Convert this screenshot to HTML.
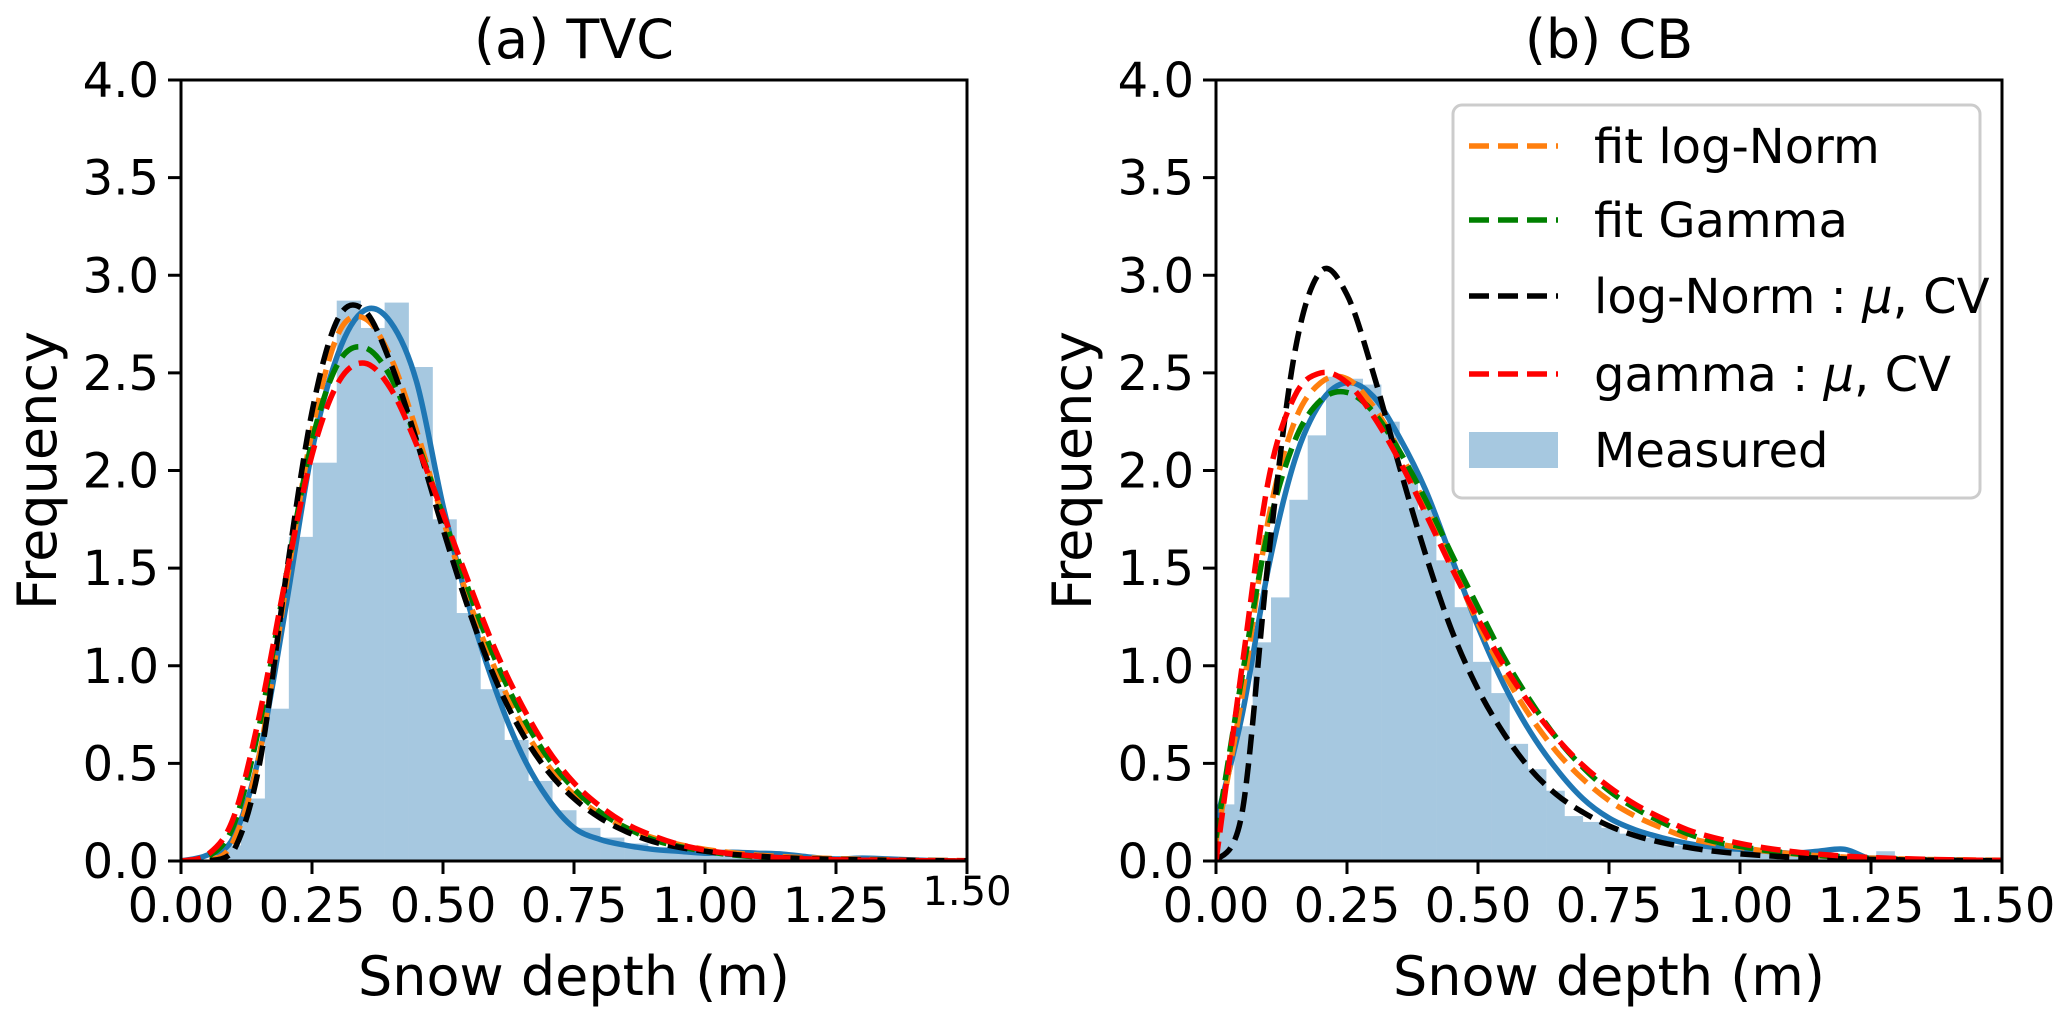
<!DOCTYPE html>
<html><head><meta charset="utf-8">
<style>
html,body{margin:0;padding:0;background:#fff;}
svg{display:block;font-family:"DejaVu Sans","Liberation Sans",sans-serif;}
</style></head>
<body>
<svg id="fig" width="2067" height="1015" viewBox="0 0 2067 1015" xmlns="http://www.w3.org/2000/svg"></svg>
<script>
// ---------- data ----------
const xTicks = [0, 0.25, 0.5, 0.75, 1.0, 1.25, 1.5];
const xTickLabelsA = ["0.00","0.25","0.50","0.75","1.00","1.25","1.50"];
const xTickLabelsB = ["0.00","0.25","0.50","0.75","1.00","1.25","1.50"];
const yTicks = [0,0.5,1,1.5,2,2.5,3,3.5,4];
const yTickLabels = ["0.0","0.5","1.0","1.5","2.0","2.5","3.0","3.5","4.0"];
const curveX = [0,0.05,0.1,0.15,0.2,0.25,0.3,0.35,0.4,0.45,0.5,0.55,0.6,0.65,0.7,0.75,0.8,0.85,0.9,0.95,1.0,1.05,1.1,1.15,1.2,1.25,1.3,1.35,1.4,1.45,1.5];

// Panel A (TVC) histogram
const histStartA = 0.0687;
const histWidthA = 0.0457;
const histA = [0.08,0.32,0.78,1.66,2.04,2.87,2.73,2.86,2.53,1.75,1.27,0.88,0.62,0.41,0.26,0.17,0.12,0.09,0.07,0.06,0.05,0.05,0.04,0.04,0.03,0.02,0.02,0.02,0.01,0.01];
const kdeA    = [0,0.03,0.12,0.55,1.3,2.1,2.6,2.82,2.76,2.45,1.82,1.3,0.88,0.55,0.32,0.17,0.11,0.08,0.06,0.05,0.04,0.045,0.04,0.035,0.02,0.01,0.015,0.01,0.005,0,0];
const lognA   = [0,0,0.1,0.55,1.4,2.2,2.7,2.78,2.58,2.2,1.75,1.33,0.98,0.7,0.49,0.34,0.24,0.17,0.12,0.085,0.06,0.043,0.03,0.022,0.016,0.012,0.008,0.006,0.004,0.003,0.002];
const gammaA  = [0,0.02,0.18,0.7,1.45,2.15,2.55,2.63,2.48,2.15,1.77,1.38,1.03,0.75,0.53,0.37,0.25,0.17,0.11,0.075,0.05,0.032,0.021,0.014,0.009,0.006,0.004,0.002,0.001,0.001,0];
const lognMuA = [0,0,0.05,0.5,1.45,2.3,2.78,2.82,2.55,2.15,1.7,1.28,0.93,0.66,0.46,0.32,0.22,0.15,0.1,0.07,0.05,0.035,0.025,0.017,0.012,0.008,0.006,0.004,0.003,0.002,0.001];
const gamMuA  = [0,0.03,0.22,0.75,1.45,2.08,2.45,2.55,2.42,2.13,1.78,1.42,1.08,0.8,0.57,0.4,0.28,0.19,0.13,0.085,0.056,0.037,0.024,0.016,0.01,0.006,0.004,0.003,0.002,0.001,0];

// Panel B (CB) histogram
const histStartB = 0.0;
const histWidthB = 0.035;
const histB = [0.29,0.69,1.12,1.35,1.85,2.18,2.48,2.47,2.44,2.25,2.0,1.8,1.54,1.3,1.02,0.86,0.6,0.47,0.36,0.23,0.2,0.17,0.14,0.12,0.1,0.08,0.07,0.06,0.05,0.05,0.04,0.04,0.05,0.04,0.03,0.03,0.05,0.02,0.01];
const kdeB    = [0.2,0.75,1.5,2.05,2.35,2.45,2.38,2.17,1.9,1.55,1.2,0.9,0.66,0.47,0.32,0.22,0.16,0.12,0.09,0.07,0.06,0.05,0.04,0.05,0.06,0.01,0.005,0.003,0.002,0.001,0];
const lognB   = [0.1,0.85,1.75,2.25,2.45,2.47,2.33,2.1,1.82,1.52,1.22,0.96,0.74,0.56,0.42,0.31,0.23,0.17,0.12,0.09,0.07,0.05,0.037,0.027,0.02,0.015,0.011,0.008,0.006,0.005,0.004];
const gammaB  = [0.12,0.95,1.7,2.15,2.36,2.4,2.3,2.1,1.85,1.57,1.3,1.04,0.82,0.63,0.48,0.36,0.27,0.2,0.14,0.1,0.075,0.054,0.039,0.028,0.02,0.014,0.01,0.007,0.005,0.003,0.002];
const lognMuB = [0,0.25,1.55,2.6,3.02,2.9,2.5,2.02,1.57,1.18,0.88,0.65,0.47,0.34,0.25,0.18,0.13,0.095,0.07,0.05,0.037,0.027,0.02,0.015,0.011,0.008,0.006,0.004,0.003,0.002,0.002];
const gamMuB  = [0,1.0,1.95,2.38,2.5,2.45,2.28,2.05,1.78,1.5,1.24,1.0,0.8,0.63,0.49,0.38,0.29,0.22,0.16,0.12,0.09,0.066,0.048,0.035,0.025,0.018,0.013,0.009,0.006,0.004,0.003];

// ---------- drawing ----------
const NS = "http://www.w3.org/2000/svg";
const svg = document.getElementById('fig');
function mk(tag, attrs, parent){
  const e = document.createElementNS(NS, tag);
  for (const k in attrs) e.setAttribute(k, attrs[k]);
  (parent||svg).appendChild(e);
  return e;
}
const Y0 = 861, Y1 = 80;
function smoothPath(pts){
  let d = "M" + pts[0][0].toFixed(1) + "," + pts[0][1].toFixed(1);
  for (let i=0;i<pts.length-1;i++){
    const p0 = pts[Math.max(0,i-1)], p1 = pts[i], p2 = pts[i+1], p3 = pts[Math.min(pts.length-1,i+2)];
    const c1x = p1[0]+(p2[0]-p0[0])/6, c1y = p1[1]+(p2[1]-p0[1])/6;
    const c2x = p2[0]-(p3[0]-p1[0])/6, c2y = p2[1]-(p3[1]-p1[1])/6;
    d += " C"+c1x.toFixed(1)+","+Math.min(Y0,c1y).toFixed(1)+" "+c2x.toFixed(1)+","+Math.min(Y0,c2y).toFixed(1)+" "+p2[0].toFixed(1)+","+p2[1].toFixed(1);
  }
  return d;
}

function panel(cfg){
  const L = cfg.left, R = cfg.left + 786;
  const sx = v => L + (v/1.5)*(R-L);
  const sy = v => Y0 - (v/4)*(Y0-Y1);
  const g = mk('g', {});
  
  
  const clip = mk('clipPath', {id: cfg.id+'-clip'}, g);
  mk('rect', {x:L, y:Y1, width:R-L, height:Y0-Y1}, clip);
  const plot = mk('g', {'clip-path':'url(#'+cfg.id+'-clip)'}, g);
  // histogram
  const hg = mk('g', {}, plot);
  
  
  cfg.hist.forEach((h,i)=>{
    const x0 = cfg.hStart + i*cfg.hWidth, x1 = x0 + cfg.hWidth;
    const r = mk('rect', {x:sx(x0), y:sy(h), width:sx(x1)-sx(x0)+0.3, height:Y0-sy(h), fill:'#a6c8e0'}, hg);
    
    
  });
  // curves
  const series = [
    {vals:cfg.kde, color:'#1f77b4', dash:null, name:'measured-kde-line'},
    {vals:cfg.logn, color:'#ff7f0e', dash:'20,9', name:'fit-lognorm-line'},
    {vals:cfg.gamma, color:'#008000', dash:'20,9', name:'fit-gamma-line'},
    {vals:cfg.lognMu, color:'#000000', dash:'20,9', name:'lognorm-mu-cv-line'},
    {vals:cfg.gamMu, color:'#ff0000', dash:'20,9', name:'gamma-mu-cv-line'}
  ];
  series.forEach(s=>{
    const pts = curveX.map((x,i)=>[sx(x), sy(s.vals[i])]);
    const p = mk('path', {d:smoothPath(pts), fill:'none', stroke:s.color, 'stroke-width':5.5}, plot);
    if (s.dash) p.setAttribute('stroke-dasharray', s.dash);
    
    
  });
  // spines
  const sp = mk('rect', {x:L, y:Y1, width:R-L, height:Y0-Y1, fill:'none', stroke:'#000', 'stroke-width':3}, g);
  
  
  // x ticks
  xTicks.forEach((t,i)=>{
    mk('line', {x1:sx(t), x2:sx(t), y1:Y0, y2:Y0+13, stroke:'#000', 'stroke-width':3}, g);
    const small = (cfg.id==='panel-a' && i===xTicks.length-1);
    const tx = mk('text', {x:sx(t), y: small ? 905 : 922, 'text-anchor':'middle', 'font-size': small ? 40 : 48, fill:'#000'}, g);
    tx.textContent = cfg.xLabels[i];
    
    
  });
  // y ticks
  yTicks.forEach((t,i)=>{
    mk('line', {x1:L-13, x2:L, y1:sy(t), y2:sy(t), stroke:'#000', 'stroke-width':3}, g);
    const ty = mk('text', {x:L-22, y:sy(t)+17, 'text-anchor':'end', 'font-size':48, fill:'#000'}, g);
    ty.textContent = yTickLabels[i];
    
    
  });
  const title = mk('text', {x:(L+R)/2, y:58, 'text-anchor':'middle', 'font-size':54, fill:'#000'}, g);
  title.textContent = cfg.title;
  
  
  const xl = mk('text', {x:(L+R)/2, y:995, 'text-anchor':'middle', 'font-size':54, fill:'#000'}, g);
  xl.textContent = 'Snow depth (m)';
  
  
  const yx = L - 125;
  const yl = mk('text', {x:yx, y:(Y0+Y1)/2, 'text-anchor':'middle', 'font-size':54, fill:'#000', transform:'rotate(-90 '+yx+' '+((Y0+Y1)/2)+')'}, g);
  yl.textContent = 'Frequency';
  
  
}

panel({id:'panel-a', left:181, title:'(a) TVC', xLabels:xTickLabelsA, hist:histA, hStart:histStartA, hWidth:histWidthA,
  kde:kdeA, logn:lognA, gamma:gammaA, lognMu:lognMuA, gamMu:gamMuA});
panel({id:'panel-b', left:1216, title:'(b) CB', xLabels:xTickLabelsB, hist:histB, hStart:histStartB, hWidth:histWidthB,
  kde:kdeB, logn:lognB, gamma:gammaB, lognMu:lognMuB, gamMu:gamMuB});

// legend
const lg = mk('g', {});


mk('rect', {x:1453, y:105, width:527, height:393, rx:9, fill:'#fff', 'fill-opacity':0.85, stroke:'#cccccc', 'stroke-width':3}, lg);
const legItems = [
  {label:'fit log-Norm', color:'#ff7f0e', y:146, type:'line'},
  {label:'fit Gamma', color:'#008000', y:220, type:'line'},
  {label:'log-Norm : ', mu:true, color:'#000000', y:296, type:'line'},
  {label:'gamma : ', mu:true, color:'#ff0000', y:374, type:'line'},
  {label:'Measured', color:'#a6c8e0', y:450, type:'patch'}
];
legItems.forEach(it=>{
  const e = mk('g', {}, lg);
  
  
  if (it.type==='line') {
    mk('line', {x1:1469, x2:1558, y1:it.y, y2:it.y, stroke:it.color, 'stroke-width':5.5, 'stroke-dasharray':'20,9'}, e);
  } else {
    mk('rect', {x:1469, y:it.y-18, width:89, height:36, fill:it.color}, e);
  }
  const t = mk('text', {x:1594, y:it.y+17, 'font-size':48, fill:'#000'}, e);
  t.textContent = it.label;
  if (it.mu) {
    const m = mk('tspan', {'font-style':'italic'}, t); m.textContent = 'μ';
    const c = mk('tspan', {}, t); c.textContent = ', CV';
  }
});
</script>
</body></html>
